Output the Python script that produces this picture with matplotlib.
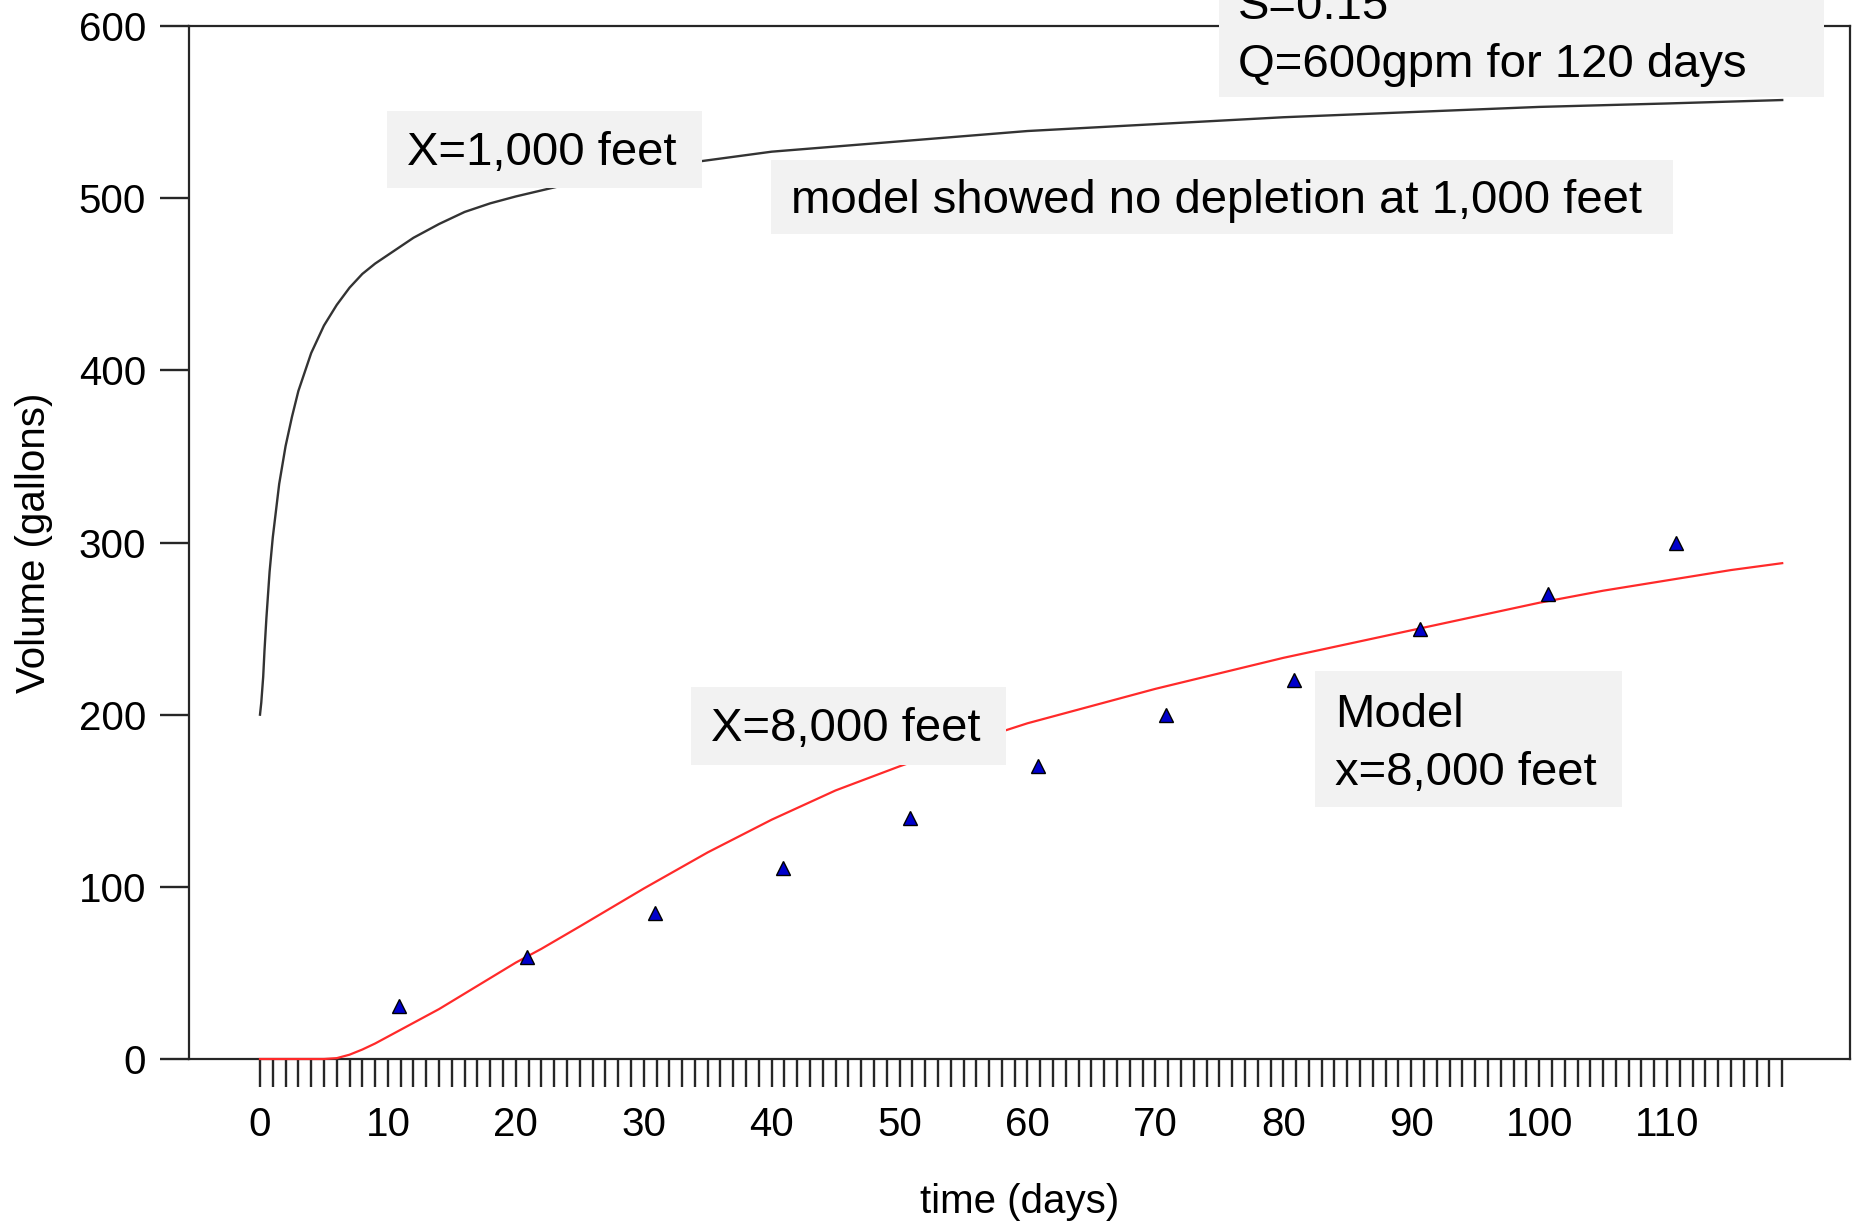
import matplotlib
matplotlib.use("Agg")
import matplotlib.pyplot as plt
from matplotlib.patches import Rectangle
from matplotlib.ticker import MultipleLocator

plt.rcParams['font.family'] = ['Liberation Sans', 'DejaVu Sans']

# ---- data ----
t_1000 = [0, 0.1, 0.25, 0.35, 0.5, 0.75, 1, 1.5, 2, 2.5, 3, 4, 5, 6, 7, 8, 9, 10,
          12, 14, 16, 18, 20, 24, 28, 32, 36, 40, 45, 50, 55, 60, 70, 80, 90, 100, 110, 119]
v_1000 = [200, 207, 222, 237, 256, 283, 303, 334, 356, 373, 388, 410, 426, 438, 448, 456, 462, 467,
          477, 485, 492, 497, 501, 508, 514, 519, 523, 527, 530, 533, 536, 539, 543, 547, 550, 553, 555, 557]

t_8000 = [0, 5, 6, 7, 8, 9, 10, 11, 12, 14, 16, 18, 20, 22, 25, 30, 35, 40, 45, 50, 55,
          60, 65, 70, 75, 80, 85, 90, 95, 100, 105, 110, 115, 119]
v_8000 = [0, 0, 0.5, 2.5, 5.5, 9, 13, 17, 21, 29, 38, 47, 56, 64, 77, 99, 120, 139, 156, 170, 183,
          195, 205, 215, 224, 233, 241, 249, 257, 265, 272, 278, 284, 288]

obs_t = [10.9, 20.9, 30.9, 40.9, 50.8, 60.8, 70.8, 80.8, 90.7, 100.7, 110.7]
obs_v = [31, 59, 85, 111, 140, 170, 200, 220, 250, 270, 300]

x_tick_values = [0, 10, 20, 30, 40, 50, 60, 70, 80, 90, 100, 110]
y_tick_values = [0, 100, 200, 300, 400, 500, 600]

W, H = 1856, 1222
fig = plt.figure(figsize=(W / 100, H / 100), dpi=100)

def fx(px):
    return px / W

def fy(py):
    return 1 - py / H

ax_l, ax_r, ax_t, ax_b = 189, 1850, 26, 1059
ax = fig.add_axes([fx(ax_l), fy(ax_b), fx(ax_r - ax_l), (ax_b - ax_t) / H])

axis_col = '#262626'
ax.plot(t_1000, v_1000, color='#333333', lw=1.7, zorder=3)
ax.plot(t_8000, v_8000, color='#ff2a2a', lw=1.6, zorder=3, clip_on=False)
ax.plot(obs_t, obs_v, linestyle='none', marker='^', markersize=9.5,
        markerfacecolor='#0000cc', markeredgecolor='black', markeredgewidth=1.0, zorder=4)

for s in ax.spines.values():
    s.set_color(axis_col)
    s.set_linewidth(1.6)

ax.set_xticks(x_tick_values)
ax.set_xticklabels([str(v) for v in x_tick_values])
ax.set_xticks(list(range(0, 120)), minor=True)
ax.set_xlim(-5.55, 124.3)
ax.set_ylim(0, 600)
ax.set_yticks(y_tick_values)
ax.set_yticklabels([str(v) for v in y_tick_values])

ax.tick_params(axis='x', which='both', direction='out', length=20, width=1.7,
               color=axis_col, labelsize=29, pad=14)
ax.tick_params(axis='y', which='major', direction='out', length=21, width=1.7,
               color=axis_col, labelsize=29, pad=10)

ax.set_xlabel('time (days)', fontsize=29, labelpad=28)
ax.set_ylabel('Volume (gallons)', fontsize=29, labelpad=18)

# ---- annotation boxes (figure pixel coords) ----
box_col = '#f2f2f2'
fs = 34

def box(x0, y0, x1, y1):
    fig.add_artist(Rectangle((fx(x0), fy(y1)), fx(x1 - x0), (y1 - y0) / H,
                             transform=fig.transFigure, facecolor=box_col,
                             edgecolor='none', zorder=5))

def label(x, y, s):
    fig.text(fx(x), fy(y), s, fontsize=fs, ha='left', va='baseline', color='black', zorder=6)

box(1219, -40, 1824, 97)
label(1238, 19, 'S=0.15')
label(1238, 77, 'Q=600gpm for 120 days')

box(387, 111, 702, 188)
label(407, 165, 'X=1,000 feet')

box(771, 160, 1673, 234)
label(791, 213, 'model showed no depletion at 1,000 feet')

box(691, 687, 1006, 765)
label(711, 741, 'X=8,000 feet')

box(1315, 671, 1622, 807)
label(1335, 727, 'Model')
label(1335, 785, 'x=8,000 feet')

fig.savefig('out.png', dpi=100)
